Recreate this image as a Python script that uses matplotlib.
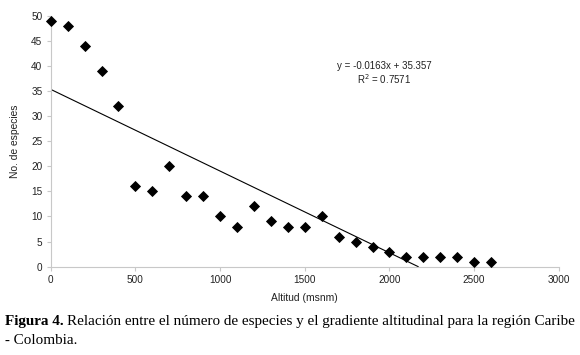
import matplotlib.pyplot as plt
import numpy as np

# altitude (msnm) and number of species
altitud = [0, 100, 200, 300, 400, 500, 600, 700, 800, 900, 1000, 1100, 1200,
           1300, 1400, 1500, 1600, 1700, 1800, 1900, 2000, 2100, 2200, 2300,
           2400, 2500, 2600]
especies = [49, 48, 44, 39, 32, 16, 15, 20, 14, 14, 10, 8, 12, 9, 8, 8, 10,
            6, 5, 4, 3, 2, 2, 2, 2, 1, 1]

# trendline coefficients as printed on the chart
slope = -0.0163
intercept = 35.357
r2 = 0.7571

xticks = [0, 500, 1000, 1500, 2000, 2500, 3000]
yticks = [0, 5, 10, 15, 20, 25, 30, 35, 40, 45, 50]

plt.rcParams['font.family'] = ['Liberation Sans', 'DejaVu Sans']
txt = '#222222'

fig = plt.figure(figsize=(5.8, 3.55), dpi=100)
ax = fig.add_axes([0.0875, 0.249, 0.876, 0.706])

ax.plot(altitud, especies, 'D', color='black', markersize=4.8, markeredgewidth=0.6,
        clip_on=False, zorder=3)

x_end = -intercept / slope
xl = np.array([0, x_end])
ax.plot(xl, slope * xl + intercept, color='black', linewidth=0.8)

ax.set_xlim(0, 3000)
ax.set_ylim(0, 50)
ax.set_xticks(xticks)
ax.set_yticks(yticks)
for s in ['top', 'right']:
    ax.spines[s].set_visible(False)
for s in ['left', 'bottom']:
    ax.spines[s].set_color('#c8c8c8')
ax.tick_params(colors='#c8c8c8', labelcolor=txt, labelsize=7.2, length=3, pad=3)

ax.set_xlabel('Altitud (msnm)', fontsize=7.4, color=txt, labelpad=6)
ax.set_ylabel('No. de especies', fontsize=7.4, color=txt, labelpad=8)

ax.text(1967, 40.0, f'y = {slope}x + {intercept}', fontsize=7.0, ha='center', va='center', color=txt)
ax.text(1967, 37.4, f'R$^2$ = {r2}', fontsize=7.0, ha='center', va='center', color=txt)

# caption: bold label followed by regular text
serif = ['Liberation Serif', 'DejaVu Serif']
csize = 10.9
y1 = 1 - 321 / 355
y2 = 1 - 341 / 355
t1 = fig.text(5 / 580, y1, 'Figura 4.', family=serif, fontsize=csize, fontweight='bold', va='center')
fig.canvas.draw()
bb = t1.get_window_extent()
x2 = (bb.x1 + 3) / 580
fig.text(x2, y1, 'Relación entre el número de especies y el gradiente altitudinal para la región Caribe',
         family=serif, fontsize=csize, va='center')
fig.text(5 / 580, y2, '- Colombia.', family=serif, fontsize=csize, va='center')

fig.savefig('out.png', dpi=100)
